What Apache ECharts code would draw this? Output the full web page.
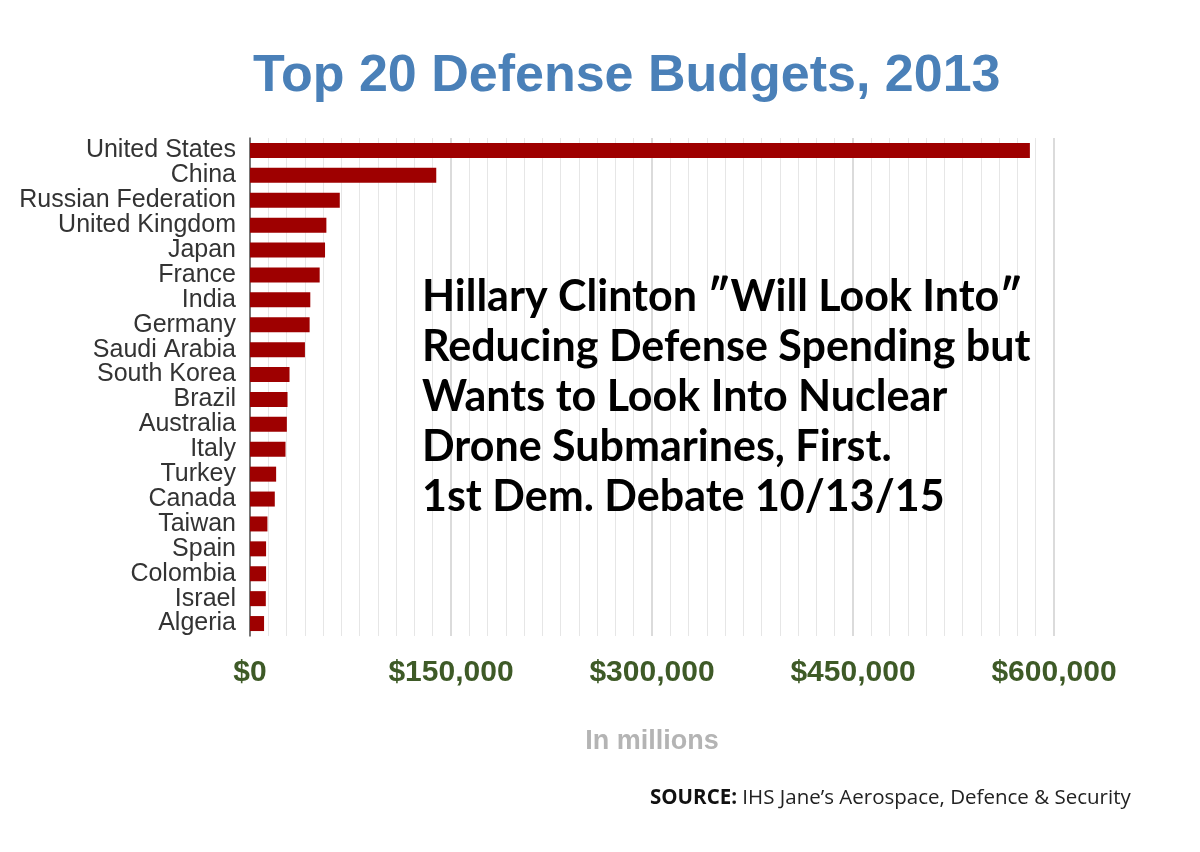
<!DOCTYPE html>
<html lang="en">
<head>
    <meta charset="UTF-8">
    <title>Top 20 Defense Budgets, 2013</title>
    <script src="https://cdn.jsdelivr.net/npm/echarts@6/dist/echarts.min.js"></script>
    <style>
        html, body { margin: 0; padding: 0; background: #fff; }
        #main { width: 1200px; height: 852px; }
    </style>
</head>
<body>
    <div id="main"></div>
    <script>
        // countries, top to bottom
        var countries = ['United States', 'China', 'Russian Federation', 'United Kingdom', 'Japan',
            'France', 'India', 'Germany', 'Saudi Arabia', 'South Korea', 'Brazil', 'Australia',
            'Italy', 'Turkey', 'Canada', 'Taiwan', 'Spain', 'Colombia', 'Israel', 'Algeria'];
        // budget in millions of US$
        var budgets = [582000, 139000, 67000, 57000, 56000, 52000, 45000, 44500, 41000, 29500,
            28000, 27500, 26500, 19500, 18500, 13000, 12000, 12000, 11800, 10500];
        var tickValues = [0, 150000, 300000, 450000, 600000];

        var note = [
            'Hillary Clinton \u2033Will Look Into\u2033',
            'Reducing Defense Spending but',
            'Wants to Look Into Nuclear',
            'Drone Submarines, First.',
            '1st Dem. Debate 10/13/15'
        ];

        var myChart = echarts.init(document.getElementById('main'));

        var option = {
            backgroundColor: '#ffffff',
            animation: false,
            title: {
                text: 'Top 20 Defense Budgets, 2013',
                left: 248,
                top: 46,
                textStyle: {
                    color: '#4a80b8',
                    fontSize: 52,
                    fontWeight: 'bold',
                    fontFamily: 'Liberation Sans, Arial, sans-serif'
                }
            },
            grid: {
                left: 250,
                right: 146,
                top: 138,
                bottom: 216
            },
            xAxis: {
                type: 'value',
                min: tickValues[0],
                max: tickValues[tickValues.length - 1],
                interval: 150000,
                name: 'In millions',
                nameLocation: 'middle',
                nameGap: 92,
                nameTextStyle: {
                    color: '#b4b4b4',
                    fontSize: 27,
                    fontWeight: 'bold',
                    fontFamily: 'Liberation Sans, Arial, sans-serif'
                },
                axisLine: { show: false },
                axisTick: { show: false },
                axisLabel: {
                    margin: 22,
                    color: '#3e5a27',
                    fontSize: 30,
                    fontWeight: 'bold',
                    fontFamily: 'Liberation Sans, Arial, sans-serif',
                    formatter: function (v) {
                        return '$' + v.toLocaleString('en-US');
                    }
                },
                splitLine: {
                    show: true,
                    lineStyle: { color: '#cfcfcf', width: 1.5 }
                },
                minorTick: { show: false, splitNumber: 11 },
                minorSplitLine: {
                    show: true,
                    lineStyle: { color: '#e6e6e6', width: 1 }
                }
            },
            yAxis: {
                type: 'category',
                inverse: true,
                data: countries,
                axisLine: { show: true, lineStyle: { color: '#555', width: 1.5 } },
                axisTick: { show: false },
                axisLabel: {
                    interval: 0,
                    margin: 14,
                    color: '#333',
                    fontSize: 25,
                    fontFamily: 'Liberation Sans, Arial, sans-serif'
                }
            },
            series: [
                {
                    type: 'bar',
                    data: budgets,
                    barWidth: 15,
                    itemStyle: { color: '#9e0000' }
                }
            ],
            graphic: [
                {
                    type: 'text',
                    left: 422,
                    top: 272,
                    z: 100,
                    style: {
                        text: note.join('\n'),
                        fill: '#000',
                        fontSize: 43,
                        fontWeight: 'bold',
                        fontFamily: 'Lato, Open Sans, sans-serif',
                        lineHeight: 50
                    }
                },
                {
                    type: 'text',
                    left: 650,
                    top: 788,
                    style: {
                        text: '{b|SOURCE:} IHS Jane\u2019s Aerospace, Defence & Security',
                        fill: '#222',
                        fontSize: 20.5,
                        fontFamily: 'Open Sans, Noto Sans, sans-serif',
                        rich: {
                            b: {
                                fontSize: 20.5,
                                fontWeight: 'bold',
                                fill: '#111',
                                fontFamily: 'Open Sans, Noto Sans, sans-serif'
                            }
                        }
                    }
                }
            ]
        };

        myChart.setOption(option);
    </script>
</body>
</html>
